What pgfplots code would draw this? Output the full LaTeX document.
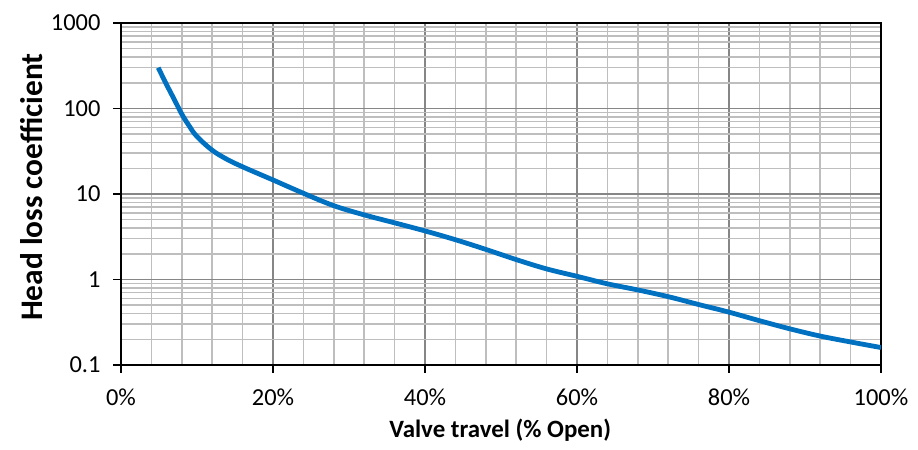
\documentclass[border=0pt]{standalone}
\usepackage{pgfplots}
\pgfplotsset{compat=1.18}
\usepackage{fontspec}
\setmainfont{Carlito}

\definecolor{curveblue}{HTML}{0070C0}
\definecolor{majgrid}{HTML}{868686}
\definecolor{mingrid}{HTML}{BEBEBE}

\begin{document}
\begin{tikzpicture}
\begin{axis}[
    at={(0,0)}, anchor=south west,
    scale only axis,
    width=760bp, height=342bp,
    ymode=log,
    xmin=0, xmax=100,
    ymin=0.1, ymax=1000,
    xtick={0,20,40,60,80,100},
    xticklabels={0\%,20\%,40\%,60\%,80\%,100\%},
    ytick={0.1,1,10,100,1000},
    yticklabels={0.1,1,10,100,1000},
    minor x tick num=4,
    grid=both,
    major grid style={majgrid, line width=1.5bp},
    minor grid style={mingrid, line width=1.5bp},
    axis line style={black, line width=1.4bp},
    tick style={black, line width=1.4bp},
    tick align=outside,
    major tick length=8bp,
    minor tick length=0pt,
    xtick pos=bottom, ytick pos=left,
    ticklabel style={font=\fontsize{24.5}{28}\selectfont},
    xticklabel style={yshift=-12bp},
    yticklabel style={xshift=-9bp},
    xlabel={\textbf{Valve travel (\% Open)}},
    ylabel={\textbf{Head loss coefficient}},
    xlabel style={font=\fontsize{25}{30}\selectfont,
        at={(axis description cs:0.499,-0.19)}, anchor=center},
    ylabel style={font=\fontsize{31.5}{36}\selectfont,
        at={(axis description cs:-0.118,0.52)}, anchor=center},
]
\addplot[curveblue, line width=4.8bp, smooth, tension=0.6] coordinates {
    (4.9,300) (6,190) (7,128) (8,86) (9,62) (10,47) (12,32.5) (14,25.3)
    (16,20.8) (18,17.4) (20,14.6) (24,10.2) (28,7.3) (32,5.7) (36,4.6)
    (40,3.7) (44,2.92) (48,2.25) (52,1.71) (56,1.33) (60,1.09) (64,0.89)
    (68,0.755) (72,0.63) (76,0.51) (80,0.415) (84,0.33) (88,0.265)
    (92,0.218) (96,0.186) (100,0.16)
};
\end{axis}
\pgfresetboundingbox
\path (-121bp,-85bp) rectangle (797bp,365bp);
\end{tikzpicture}
\end{document}
